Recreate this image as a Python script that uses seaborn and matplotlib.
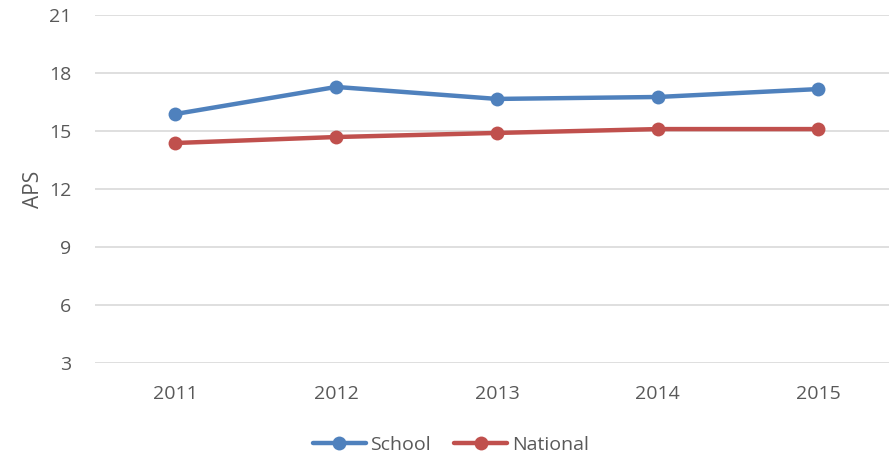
import pandas as pd
import matplotlib
matplotlib.use("Agg")
import matplotlib.pyplot as plt
import seaborn as sns

years = ["2011", "2012", "2013", "2014", "2015"]
school = [15.88, 17.28, 16.66, 16.76, 17.17]
national = [14.38, 14.69, 14.9, 15.1, 15.1]

df = pd.DataFrame({"Year": years * 2,
                   "APS": school + national,
                   "Series": ["School"] * 5 + ["National"] * 5})

sns.set_theme(style="white")
plt.rcParams['font.family'] = ['Open Sans', 'DejaVu Sans']

fig = plt.figure(figsize=(8.89, 4.58), dpi=100)
ax = fig.add_axes([0.107, 0.2074, 0.893, 0.7598])

grey = "#595959"
for y in range(3, 22, 3):
    ax.axhline(y, color="#D9D9D9", lw=1.2, zorder=0)

sns.lineplot(data=df, x="Year", y="APS", hue="Series",
             palette={"School": "#4F81BD", "National": "#C0504D"},
             marker="o", markersize=10, markeredgewidth=0,
             linewidth=3.2, ax=ax, sort=False)

ax.set_ylim(3, 21)
ax.set_yticks(range(3, 22, 3))
ax.set_xlim(-0.5, 4.44)
ax.set_xlabel("")
ax.set_ylabel("APS", fontsize=15, color=grey, labelpad=4)
ax.tick_params(axis="both", labelsize=14, colors=grey, length=0)
ax.tick_params(axis="y", pad=17)
ax.tick_params(axis="x", pad=16)
for s in ax.spines.values():
    s.set_visible(False)

leg = ax.legend(loc="upper center", bbox_to_anchor=(0.448, -0.16), ncol=2,
                frameon=False, fontsize=14, handlelength=2.7,
                handletextpad=0.25, columnspacing=1.2)
for t in leg.get_texts():
    t.set_color(grey)

fig.savefig("out.png", dpi=100)
